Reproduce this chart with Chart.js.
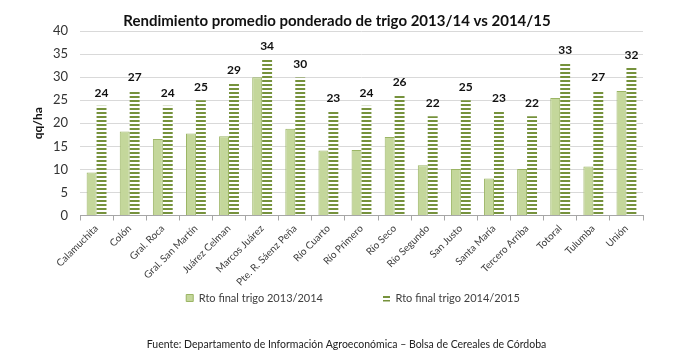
<!DOCTYPE html>
<html>
<head>
<meta charset="utf-8">
<script src="https://cdn.jsdelivr.net/npm/chart.js@4.4.1/dist/chart.umd.min.js"></script>
<style>
html,body{margin:0;padding:0;background:#fff;}
#wrap{width:696px;height:357px;}
</style>
</head>
<body>
<div id="wrap"><canvas id="c" width="696" height="357"></canvas></div>
<script>
const categories = ["Calamuchita","Colón","Gral. Roca","Gral. San Martín","Juárez Celman","Marcos Juárez","Pte. R. Sáenz Peña","Río Cuarto","Río Primero","Río Seco","Río Segundo","San Justo","Santa María","Tercero Arriba","Totoral","Tulumba","Unión"];
const rto2013 = [9.3,18.2,16.6,17.8,17.2,30.0,18.8,14.1,14.2,17.0,10.9,10.1,8.0,10.1,25.5,10.6,27.0];
const rto2014 = [23.8,27.2,23.8,25.0,28.6,34.0,29.9,22.6,23.8,26.2,21.5,25.0,22.6,21.5,33.1,27.2,32.0];
const seriesNames = ["Rto final trigo 2013/2014","Rto final trigo 2014/2015"];
const titleText = "Rendimiento promedio ponderado de trigo 2013/14 vs 2014/15";
const footerText = "Fuente: Departamento de Información Agroeconómica – Bolsa de Cereales de Córdoba";
const yAxisTitle = "qq/ha";
const yMin = 0, yMax = 40, yStep = 5;

const FONT = "Lato, 'Open Sans', sans-serif";

function stripes(){
  const c = document.createElement('canvas');
  c.width = 4; c.height = 4;
  const g = c.getContext('2d');
  g.fillStyle = '#ffffff'; g.fillRect(0,0,4,4);
  g.fillStyle = '#76923c'; g.fillRect(0,0,4,2);
  return g.createPattern(c,'repeat');
}
const stripeFill = stripes();

const CHART_BOTTOM = 215.5;
const LEGEND_PAD = 60;

const valueLabels = {
  id: 'valueLabels',
  afterDatasetsDraw(chart){
    const meta = chart.getDatasetMeta(1);
    const ctx = chart.ctx;
    ctx.save();
    ctx.font = "bold 12px " + FONT;
    ctx.fillStyle = '#111';
    ctx.textAlign = 'center';
    ctx.textBaseline = 'middle';
    meta.data.forEach((bar,i)=>{
      ctx.fillText(String(Math.round(rto2014[i])), bar.x, bar.y - 13);
    });
    ctx.restore();
  }
};

const placeBoxes = {
  id: 'placeBoxes',
  beforeLayout(chart){
    const L = chart.legend;
    if (L && !L._fitPatched) {
      const orig = L.fit.bind(L);
      L.fit = function(){ orig(); this.height = 20; };
      L._fitPatched = true;
    }
  },
  afterLayout(chart){
    chart.boxes.forEach(b=>{
      if (b === chart.legend) {
        b.top = 298 - LEGEND_PAD - 5.5; b.bottom = b.top + LEGEND_PAD + 22;
        b.left += 16; b.right += 16;
      } else if (b.options && b.options.text === footerText) {
        const h = b.height;
        b.top = 345 - 6.3; b.bottom = b.top + h;
        b.left += 9.5; b.right += 9.5;
      }
    });
  }
};

new Chart(document.getElementById('c'), {
  type: 'bar',
  data: {
    labels: categories,
    datasets: [
      {label: seriesNames[0], data: rto2013, backgroundColor: '#c4d79b', borderColor: '#9bb565', borderWidth: 1, categoryPercentage: 0.6, barPercentage: 1.0},
      {label: seriesNames[1], data: rto2014, backgroundColor: stripeFill, borderWidth: 0, categoryPercentage: 0.6, barPercentage: 1.0}
    ]
  },
  options: {
    responsive: false,
    animation: false,
    layout: {padding: {left: 31, right: 53, top: 0, bottom: 0}},
    plugins: {
      title: {display: true, text: titleText, color: '#111', font: {family: FONT, size: 15, weight: 'bold', lineHeight: 1.2}, padding: {top: 12.5, bottom: 0.5}},
      subtitle: {display: true, position: 'bottom', text: footerText, color: '#222', font: {family: FONT, size: 10.5, lineHeight: 1.2}, padding: {top: 0, bottom: 0}},
      legend: {
        position: 'bottom',
        labels: {boxWidth: 7, boxHeight: 7, padding: LEGEND_PAD, color: '#404040', font: {family: FONT, size: 11}}
      },
      tooltip: {enabled: false}
    },
    scales: {
      x: {
        grid: {offset: true, drawOnChartArea: false, drawTicks: true, tickLength: 5, color: '#a6a6a6'},
        border: {display: true, color: '#a6a6a6'},
        ticks: {minRotation: 45, maxRotation: 45, autoSkip: false, color: '#404040', font: {family: FONT, size: 10}, padding: 2},
        afterFit(scale){
          let used = 0;
          scale.chart.boxes.forEach(b=>{ if (b.fullSize && b.position === 'bottom' && b !== scale) used += b.height; });
          scale.height = Math.max(0, scale.chart.height - CHART_BOTTOM - used);
        }
      },
      y: {
        min: yMin, max: yMax,
        ticks: {stepSize: yStep, color: '#333', font: {family: FONT, size: 13}, padding: 12},
        grid: {color: '#d9d9d9', drawTicks: false},
        border: {display: false},
        title: {display: true, text: yAxisTitle, color: '#111', font: {family: FONT, size: 12, weight: 'bold'}, padding: 0},
        afterFit(scale){ scale.width = 49; }
      }
    }
  },
  plugins: [valueLabels, placeBoxes]
});
</script>
</body>
</html>
